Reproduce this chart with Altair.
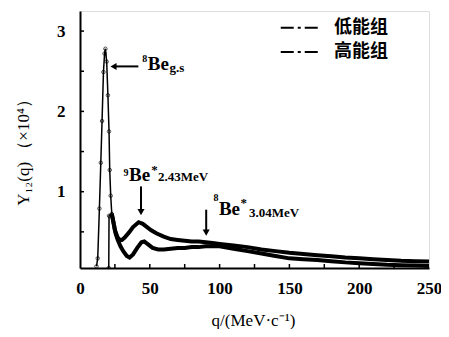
import altair as alt
import pandas as pd

# ---------------- data ----------------
q_low = [11.8, 12.7, 13.9, 14.9, 15.8, 16.8, 17.6, 18.2, 19.1, 20.0,
         20.8, 21.3, 22.0, 22.8, 25, 27, 28.5, 30, 32, 35,
         38, 42, 45, 48, 51, 55, 60, 65, 70, 75,
         80, 85, 90, 95, 100, 110, 120, 130, 140, 150,
         160, 170, 180, 190, 200, 210, 220, 230, 240, 250]
y_low = [0.07, 0.17, 0.79, 1.36, 1.88, 2.49, 2.72, 2.78, 2.62, 2.2,
         1.75, 1.27, 0.95, 0.72, 0.52, 0.43, 0.40, 0.40, 0.43, 0.49,
         0.56, 0.62, 0.60, 0.56, 0.52, 0.48, 0.44, 0.41, 0.40, 0.39,
         0.38, 0.38, 0.37, 0.36, 0.35, 0.33, 0.31, 0.28, 0.26, 0.24,
         0.225, 0.21, 0.195, 0.18, 0.17, 0.16, 0.15, 0.14, 0.135, 0.13]

q_high = [20.6, 20.8, 22.8, 24, 25.5, 27, 29, 31, 33.5, 35.5,
          38, 41, 44, 46, 49, 52, 56, 60, 65, 70,
          75, 80, 85, 90, 95, 100, 110, 120, 130, 140,
          150, 160, 170, 180, 190, 200, 210, 220, 230, 240, 250]
y_high = [0.05, 0.70, 0.72, 0.62, 0.48, 0.40, 0.32, 0.26, 0.20, 0.18,
          0.22, 0.30, 0.37, 0.38, 0.34, 0.30, 0.28, 0.28, 0.29, 0.30,
          0.30, 0.31, 0.31, 0.32, 0.32, 0.32, 0.29, 0.26, 0.23, 0.20,
          0.17, 0.16, 0.15, 0.135, 0.12, 0.11, 0.10, 0.09, 0.085, 0.08, 0.075]

series_names = ["低能组", "高能组"]

x_labels = [0, 50, 100, 150, 200, 250]
x_ticks = [25, 50, 75, 100, 125, 150, 175, 200, 225]
y_labels = [1, 2, 3]
y_ticks = [0.5, 1, 1.5, 2, 2.5, 3]

# annotation text pieces (q, y, text, font size)
ann_q = [44.6, 48.5, 64.2,
         31.2, 35.1, 51.0, 55.8,
         95.6, 99.5, 115.0, 121.0]
ann_y = [2.62, 2.516, 2.49,
         1.20, 1.137, 1.22, 1.137,
         0.888, 0.708, 0.814, 0.69]
ann_text = ["8", "Be", "g.s",
            "9", "Be", "*", "2.43MeV",
            "8", "Be", "*", "3.04MeV"]
ann_size = [10, 19, 13,
            10, 19, 13, 13,
            10, 19, 13, 13]

# arrows: (q1, y1) -> (q2, y2)
arr_q1 = [41.8, 43.7, 90.4]
arr_y1 = [2.56, 1.066, 0.776]
arr_q2 = [24.5, 43.7, 90.4]
arr_y2 = [2.56, 0.76, 0.50]
head_q = [24.0, 43.7, 90.4]
head_y = [2.56, 0.745, 0.49]
head_shape = ["triangle-left", "triangle-down", "triangle-down"]

# legend
leg_y = [3.04, 2.74]
leg_q1 = 143.8
leg_q2 = 171.4
leg_qt = 182.0

# ---------------- build ----------------
df = pd.concat([
    pd.DataFrame({"q": q_low, "y": y_low, "g": series_names[0]}),
    pd.DataFrame({"q": q_high, "y": y_high, "g": series_names[1]}),
])

W, H = 349, 257
xs = alt.Scale(domain=[0, 250], nice=False, zero=False)
ys = alt.Scale(domain=[0.05, 3.25], nice=False, zero=False)
SERIF = "Liberation Serif"

x_axis = alt.Axis(values=x_labels, ticks=False, grid=False, labelFont=SERIF,
                  labelFontWeight="bold", labelFontSize=17, labelPadding=12,
                  labelColor="black", labelFlush=False, labelOverlap=False,
                  domainColor="black", domainWidth=2, format="d",
                  title="q/(MeV·c⁻¹)", titleFont=SERIF, titleFontSize=17,
                  titleFontWeight="normal", titleColor="black",
                  titleX=173, titleY=52, titleBaseline="middle")
y_axis = alt.Axis(values=y_labels, ticks=False, grid=False, labelFont=SERIF,
                  labelFontWeight="bold", labelFontSize=17, labelPadding=15,
                  labelColor="black", labelOverlap=False, format="d",
                  domainColor="black", domainWidth=2,
                  title="Y₁₂(q) （×10⁴）", titleFont=SERIF, titleFontSize=17,
                  titleFontWeight="normal", titleColor="black",
                  titleX=-57, titleY=137, titleBaseline="middle", titleAlign="center")

base = alt.Chart(df)
thin = base.mark_line(color="black", strokeWidth=1.5, clip=True).encode(
    x=alt.X("q:Q", scale=xs, axis=x_axis),
    y=alt.Y("y:Q", scale=ys, axis=y_axis),
    detail="g:N",
)
thick = base.transform_filter("datum.q >= 22.5").mark_line(
    color="black", strokeWidth=4, clip=True).encode(
    x=alt.X("q:Q", scale=xs), y=alt.Y("y:Q", scale=ys), detail="g:N")
pts = base.transform_filter("datum.q <= 23").mark_point(
    shape="circle", size=12, color="black", strokeWidth=1, filled=False, clip=True).encode(
    x=alt.X("q:Q", scale=xs), y=alt.Y("y:Q", scale=ys))

# inward ticks
xt = alt.Chart(pd.DataFrame({"q": x_ticks})).mark_rule(color="black", strokeWidth=1.5).encode(
    x=alt.X("q:Q", scale=xs), y=alt.value(H), y2=alt.value(H - 4))
yt = alt.Chart(pd.DataFrame({"y": y_ticks})).mark_rule(color="black", strokeWidth=1.5).encode(
    y=alt.Y("y:Q", scale=ys), x=alt.value(0), x2=alt.value(4))

# annotations
ann = alt.Chart(pd.DataFrame({"q": ann_q, "y": ann_y, "t": ann_text, "s": ann_size})).mark_text(
    font=SERIF, fontWeight="bold", align="left", baseline="alphabetic", color="black").encode(
    x=alt.X("q:Q", scale=xs), y=alt.Y("y:Q", scale=ys), text="t:N",
    size=alt.Size("s:Q", scale=None, legend=None))
arr = alt.Chart(pd.DataFrame({"q1": arr_q1, "y1": arr_y1, "q2": arr_q2, "y2": arr_y2})).mark_rule(
    color="black", strokeWidth=2).encode(
    x=alt.X("q1:Q", scale=xs), y=alt.Y("y1:Q", scale=ys), x2="q2:Q", y2="y2:Q")
heads = alt.Chart(pd.DataFrame({"q": head_q, "y": head_y, "sh": head_shape})).mark_point(
    filled=True, color="black", size=50, opacity=1).encode(
    x=alt.X("q:Q", scale=xs), y=alt.Y("y:Q", scale=ys),
    shape=alt.Shape("sh:N", scale=None, legend=None))

# legend
leg = pd.DataFrame({"y": leg_y, "t": series_names, "q1": leg_q1, "q2": leg_q2, "qt": leg_qt})
leg_sym = alt.Chart(leg).mark_rule(color="black", strokeWidth=2, strokeDash=[13, 4, 3, 4]).encode(
    x=alt.X("q1:Q", scale=xs), x2="q2:Q", y=alt.Y("y:Q", scale=ys))
leg_txt = alt.Chart(leg).mark_text(font="Noto Sans CJK SC", fontWeight="bold", fontSize=18,
                                   align="left", baseline="middle", color="black").encode(
    x=alt.X("qt:Q", scale=xs), y=alt.Y("y:Q", scale=ys), text="t:N")

chart = alt.layer(thin, thick, pts, xt, yt, arr, heads, ann, leg_sym, leg_txt).properties(
    width=W, height=H,
    autosize=alt.AutoSizeParams(type="none"),
    padding={"left": 72, "top": 3, "right": 12, "bottom": 61},
).configure_view(stroke="black", strokeWidth=1.5).configure(background="white")

chart.save("out.html", embed_options={"renderer": "svg", "actions": False})
